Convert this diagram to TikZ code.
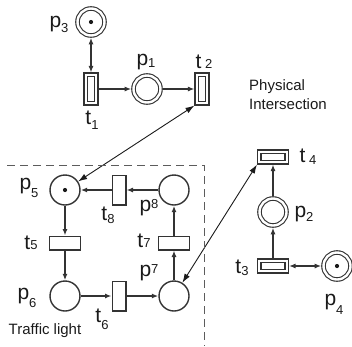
\documentclass[tikz,border=0pt]{standalone}
\usepackage{fontspec}
\setmainfont{Liberation Sans}
\usetikzlibrary{arrows.meta}
\definecolor{netgray}{HTML}{333333}
\definecolor{inkblack}{HTML}{1A1A1A}
% label: letter with a subscript lowered by the optional amount
\newcommand{\lbl}[3][6]{{\fontsize{21}{21}\selectfont #2}\raisebox{-#1pt}{\fontsize{13}{13}\selectfont #3}}
\begin{document}
\begin{tikzpicture}[x=1pt,y=-1pt,
  netline/.style={draw=netgray, line width=1.4pt},
  place/.style={circle, netline, minimum size=30pt, inner sep=0pt, fill=white},
  dplace/.style={circle, draw=netgray, line width=1.1pt, double=white, double distance=2.4pt,
    minimum size=27pt, inner sep=0pt, outer sep=2.3pt},
  vtrans/.style={rectangle, netline, minimum width=13.6pt, minimum height=29.6pt, inner sep=0pt},
  htrans/.style={rectangle, netline, minimum width=30.6pt, minimum height=13.6pt, inner sep=0pt},
  vdtrans/.style={rectangle, draw=netgray, line width=1.1pt, double=white, double distance=2.4pt,
    minimum width=10.5pt, minimum height=28.5pt, inner sep=0pt, outer sep=2.3pt},
  hdtrans/.style={rectangle, draw=netgray, line width=1.1pt, double=white, double distance=2.4pt,
    minimum width=27.5pt, minimum height=10.5pt, inner sep=0pt, outer sep=2.3pt},
  arc/.style={draw=netgray, line width=1.4pt, -{Latex[length=6.5pt,width=5pt]}},
  biarc/.style={draw=netgray, line width=1.4pt, {Latex[length=6.5pt,width=5pt]}-{Latex[length=6.5pt,width=5pt]}},
  link/.style={draw=inkblack, line width=0.9pt, {Latex[length=9pt,width=6pt]}-{Latex[length=9pt,width=6pt]}},
  token/.style={circle, fill=inkblack, minimum size=4.2pt, inner sep=0pt},
  lab/.style={text=inkblack, inner sep=0pt},
  caption/.style={text=inkblack, font=\fontsize{15}{19}\selectfont, inner sep=0pt, align=left},
  frame/.style={draw=netgray!80, line width=1pt, dash pattern=on 8pt off 5pt}
]
\useasboundingbox (0,0) rectangle (352,346);

% physical intersection net
\node[dplace] (p3) at (91,22) {};
\node[vdtrans] (t1) at (91,89) {};
\node[dplace] (p1) at (147,89) {};
\node[vdtrans] (t2) at (202,89) {};
\node[token] (k3) at (p3) {};

\node[hdtrans] (t4) at (273,157) {};
\node[dplace] (p2) at (273,212) {};
\node[hdtrans] (t3) at (273,266) {};
\node[dplace] (p4) at (337,266) {};
\node[token] (k4) at (p4) {};

% traffic light net
\node[place] (p5) at (65,190) {};
\node[vtrans] (t8) at (119,190) {};
\node[place] (p8) at (174,190) {};
\node[htrans] (t5) at (65,243) {};
\node[htrans] (t7) at (174,243) {};
\node[place] (p6) at (65,296) {};
\node[vtrans] (t6) at (119,296) {};
\node[place] (p7) at (174,296) {};
\node[token] (k5) at (p5) {};

% arcs
\draw[biarc] (p3) -- (t1);
\draw[arc] (t1) -- (p1);
\draw[arc] (p1) -- (t2);
\draw[arc] (t3) -- (p2);
\draw[arc] (p2) -- (t4);
\draw[biarc] (t3) -- (p4);
\draw[arc] (p5) -- (t5);
\draw[arc] (t5) -- (p6);
\draw[arc] (p6) -- (t6);
\draw[arc] (t6) -- (p7);
\draw[arc] (p7) -- (t7);
\draw[arc] (t7) -- (p8);
\draw[arc] (p8) -- (t8);
\draw[arc] (t8) -- (p5);

% couplings between the two nets
\draw[link] (t2.south west) -- (p5);
\draw[link] (t4.south west) -- (p7);

% traffic light boundary
\draw[frame] (7,165) -- (204,165) -- (204,346);

% labels
\node[lab] (lp3) at (59,24) {\lbl[5]{p}{3}};
\node[lab] (lp1) at (146,62) {\lbl[2]{p}{1}};
\node[lab] (lt2) at (204,62) {\lbl[0]{t\,}{2}};
\node[lab] (lt1) at (92,120) {\lbl[5]{t}{1}};
\node[lab] (lt4) at (308,157) {\lbl[2]{t\,}{4}};
\node[lab] (lp2) at (304,214) {\lbl[4]{p}{2}};
\node[lab] (lt3) at (242,268) {\lbl[2]{t}{3}};
\node[lab] (lp4) at (334,304) {\lbl[9]{p}{4}};
\node[lab] (lp5) at (29,188) {\lbl[8]{p}{5}};
\node[lab] (lt8) at (108,215) {\lbl[3]{t}{8}};
\node[lab] (lp8) at (149,208) {\lbl[-3]{p}{8}};
\node[lab] (lt5) at (31,243) {\lbl[0]{t}{5}};
\node[lab] (lt7) at (144,241) {\lbl[0]{t}{7}};
\node[lab] (lp7) at (149,273) {\lbl[-3]{p}{7}};
\node[lab] (lp6) at (27,298) {\lbl[8]{p}{6}};
\node[lab] (lt6) at (102,319) {\lbl[7]{t}{6}};

\node[caption, anchor=west] (phys) at (249,95) {Physical\\Intersection};
\node[caption] (tl) at (45,331) {Traffic light};
\end{tikzpicture}
\end{document}
